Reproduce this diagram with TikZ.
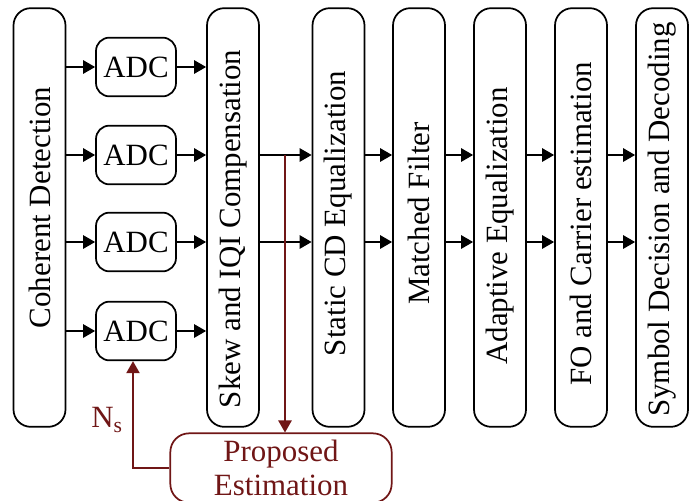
\documentclass[tikz,border=0pt]{standalone}
\usepackage{fontspec}
\setmainfont{Liberation Serif}
\usepackage{graphicx}
\usetikzlibrary{arrows.meta}
\definecolor{dred}{RGB}{112,22,22}
\begin{document}
\begin{tikzpicture}[x=0.75pt,y=-0.75pt,
  font=\fontsize{23.2}{26}\selectfont,
  tall/.style={draw, line width=1.3pt, rounded corners=13pt, minimum width=39pt, minimum height=314pt, inner sep=0pt},
  vtext/.style={inner sep=0pt, rotate=90},
  adc/.style={draw, line width=1.3pt, rounded corners=10pt, minimum width=60pt, minimum height=44pt, inner sep=0pt},
  est/.style={draw=dred, text=dred, line width=1.3pt, rounded corners=14pt, minimum width=166pt, minimum height=52pt, inner sep=0pt, align=center},
  arr/.style={-{Triangle[length=9pt,width=10pt]}, line width=1.3pt},
  redarr/.style={-{Triangle[length=9pt,width=10pt]}, draw=dred, line width=1.1pt}]
\useasboundingbox (0,0) rectangle (692,500);
\clip (0,0) rectangle (692,500);
\coordinate (r1) at (0,155);
\coordinate (r2) at (0,242);
\node[tall] (coh) at (39.5,217.5) {};
\node[tall] (skew) at (233,217.5) {};
\node[tall] (scd) at (338.5,217.5) {};
\node[tall] (mf) at (419,217.5) {};
\node[tall] (ae) at (500,217.5) {};
\node[tall] (fo) at (581,217.5) {};
\node[tall] (sym) at (662,217.5) {};
\node[vtext] (tcoh) at (39.5,207.5) {Coherent Detection};
\node[vtext] (tskew) at (233,229) {Skew and IQI Compensation};
\node[vtext] (tscd) at (338.5,213.5) {Static CD Equalization};
\node[vtext] (tmf) at (419,213.5) {Matched Filter};
\node[vtext] (tae) at (500,226) {Adaptive Equalization};
\node[vtext] (tfo) at (581,224) {FO and Carrier estimation};
\node[vtext] (tsym) at (662,219.5) {Symbol Decision and Decoding};
\node[adc] (adc1) at (136,67) {ADC};
\node[adc] (adc2) at (136,155) {ADC};
\node[adc] (adc3) at (136,242) {ADC};
\node[adc] (adc4) at (136,331) {ADC};
\foreach \a in {adc1,adc2,adc3,adc4}{
  \draw[arr] (coh.east |- \a) -- (\a.west);
  \draw[arr] (\a.east) -- (skew.west |- \a);
}
\foreach \p/\q in {skew/scd,scd/mf,mf/ae,ae/fo,fo/sym}{
  \draw[arr] (\p.east |- r1) -- (\q.west |- r1);
  \draw[arr] (\p.east |- r2) -- (\q.west |- r2);
}
\node[est] (pe) at (281,468) {Proposed\\Estimation};
\coordinate (br) at (285,155);
\coordinate (nsx) at (133,0);
\draw[redarr] (br) -- (br |- pe.north);
\draw[redarr] (pe.west) -| (nsx |- adc4.south);
\node[text=dred, inner sep=0pt] (ns) at (107,420) {N\textsubscript{s}};
\end{tikzpicture}
\end{document}
